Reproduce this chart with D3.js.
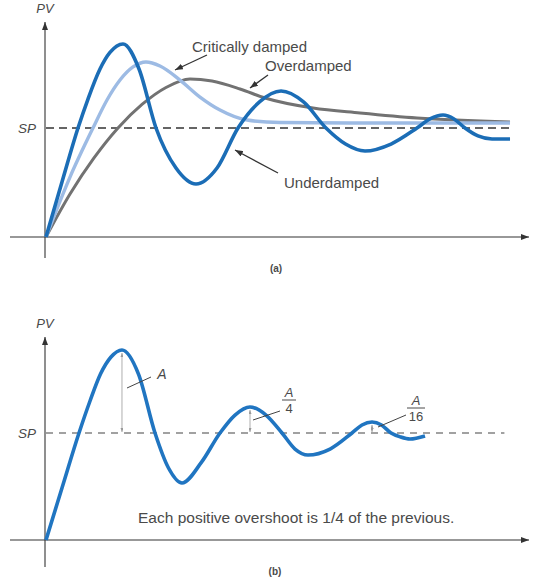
<!DOCTYPE html>
<html><head><meta charset="utf-8">
<script src="https://cdn.jsdelivr.net/npm/d3@7"></script>
<style>
body{margin:0;background:#fff}
svg{display:block}
text{font-family:"Liberation Sans",Arial,Helvetica,sans-serif;fill:#4a4a4a}
</style>
</head><body>
<svg id="c" width="539" height="578"></svg>
<script>
// ---------- data (time in % of window, PV relative to setpoint = 1) ----------
const underT   = [0, 3.33, 6.67, 8.75, 11.25, 13.33, 16.04, 19.38, 22.92, 27.08, 31.25, 35.63, 40.0, 44.48,
                  48.96, 53.65, 58.33, 62.4, 66.46, 71.88, 77.29, 80.0, 82.71, 85.0, 87.29, 90.0, 92.92, 96.67];
const underPV  = [0, 0.505, 1.0, 1.266, 1.541, 1.693, 1.771, 1.541, 1.0, 0.633, 0.486, 0.633, 1.0, 1.239,
                  1.339, 1.239, 1.0, 0.853, 0.789, 0.853, 1.0, 1.083, 1.119, 1.083, 1.0, 0.927, 0.899, 0.899];
const critT    = [0, 5.0, 9.79, 12.71, 15.42, 18.13, 20.83, 23.75, 27.92, 32.08, 36.25, 41.88, 48.75, 63.33, 96.67];
const critPV   = [0, 0.55, 1.0, 1.257, 1.44, 1.56, 1.606, 1.569, 1.44, 1.284, 1.165, 1.073, 1.05, 1.046, 1.046];
const overT    = [0, 5, 10, 15, 20, 25, 30, 34.58, 40.42, 45.63, 55.63, 65.42, 77.29, 96.67];
const overPV   = [0, 0.394, 0.725, 1.0, 1.216, 1.372, 1.45, 1.431, 1.358, 1.275, 1.183, 1.138, 1.092, 1.055];
const quarterT = [0, 3.33, 6.875, 9.17, 11.35, 13.54, 15.83, 19.27, 22.71, 25.52, 28.33, 32.29, 36.25, 39.38,
                  42.5, 45.83, 49.17, 51.88, 54.58, 59.17, 63.75, 65.83, 67.92, 69.9, 71.88, 73.85, 75.83, 78.96];
const quarterPV= [0, 0.486, 1.0, 1.299, 1.551, 1.71, 1.776, 1.551, 1.0, 0.673, 0.533, 0.72, 1.0, 1.168,
                  1.243, 1.168, 1.0, 0.85, 0.794, 0.85, 1.0, 1.075, 1.103, 1.075, 1.0, 0.963, 0.944, 0.972];
const overshootT  = [15.83, 42.5, 67.92];
const overshootPV = [1.776, 1.243, 1.103];
const overshootLabels = [["A"], ["A", "4"], ["A", "16"]];
const setpoint = 1;
const curveLabels = ["Critically damped", "Overdamped", "Underdamped"];
const caption = "Each positive overshoot is 1/4 of the previous.";

// ---------- scales ----------
const x  = d3.scaleLinear().domain([0, 100]).range([46, 526]);
const yA = d3.scaleLinear().domain([0, 1]).range([237, 128]);
const yB = d3.scaleLinear().domain([0, 1]).range([540, 433]);

const svg = d3.select("#c");
const defs = svg.append("defs");
function marker(id, color, w, h, orientAuto) {
  defs.append("marker").attr("id", id)
    .attr("viewBox", `0 0 ${w} ${h}`).attr("refX", w).attr("refY", h/2)
    .attr("markerWidth", w).attr("markerHeight", h)
    .attr("markerUnits", "userSpaceOnUse").attr("orient", orientAuto || "auto")
    .append("path").attr("d", `M0,0L${w},${h/2}L0,${h}Z`).attr("fill", color);
}
marker("axArrow", "#333", 8, 6);
marker("lblArrow", "#333", 8, 6);
marker("dimArrow", "#999", 4, 3, "auto-start-reverse");

const zip = (a, b) => a.map((v, i) => [v, b[i]]);
const smooth = d3.curveMonotoneX;

function axes(y, yTopPx, yBotPx) {
  const g = svg.append("g");
  g.append("line").attr("x1", 10).attr("x2", 529)
    .attr("y1", y(0)).attr("y2", y(0))
    .attr("stroke", "#333").attr("stroke-width", 1.1).attr("marker-end", "url(#axArrow)");
  g.append("line").attr("x1", x(0) - 1).attr("x2", x(0) - 1)
    .attr("y1", yBotPx).attr("y2", yTopPx)
    .attr("stroke", "#333").attr("stroke-width", 1.1).attr("marker-end", "url(#axArrow)");
  g.append("text").attr("x", x(0) - 1).attr("y", yTopPx - 9).attr("text-anchor", "middle")
    .attr("font-size", 13).attr("font-style", "italic").text("PV");
  g.append("text").attr("x", 36).attr("y", y(setpoint) + 5).attr("text-anchor", "end")
    .attr("font-size", 13.5).attr("font-style", "italic").text("SP");
}

// ================= panel (a) =================
axes(yA, 22, 258);
svg.append("line").attr("x1", x(0)).attr("x2", x(96.5))
  .attr("y1", yA(setpoint)).attr("y2", yA(setpoint))
  .attr("stroke", "#333").attr("stroke-width", 1.4).attr("stroke-dasharray", "8,5");

const lineA = d3.line().x(d => x(d[0])).y(d => yA(d[1])).curve(smooth);
svg.append("path").attr("d", lineA(zip(overT, overPV)))
  .attr("fill", "none").attr("stroke", "#727272").attr("stroke-width", 3);
svg.append("path").attr("d", lineA(zip(critT, critPV)))
  .attr("fill", "none").attr("stroke", "#9dbbe4").attr("stroke-width", 3.4);
svg.append("path").attr("d", lineA(zip(underT, underPV)))
  .attr("fill", "none").attr("stroke", "#1b6db6").attr("stroke-width", 3.6);

// labels with arrows
const lblAnchors = [[192, 52], [265, 71], [284, 188]];
const lblArrows = [[[207, 55], [175, 70]], [[268, 75], [250, 88]], [[278, 173], [235, 150]]];
curveLabels.forEach((t, i) => {
  svg.append("text").attr("x", lblAnchors[i][0]).attr("y", lblAnchors[i][1])
    .attr("font-size", 15).text(t);
  svg.append("line")
    .attr("x1", lblArrows[i][0][0]).attr("y1", lblArrows[i][0][1])
    .attr("x2", lblArrows[i][1][0]).attr("y2", lblArrows[i][1][1])
    .attr("stroke", "#333").attr("stroke-width", 1.3).attr("marker-end", "url(#lblArrow)");
});
svg.append("text").attr("x", 276).attr("y", 272).attr("text-anchor", "middle")
  .attr("font-size", 10).attr("font-weight", "bold").attr("fill", "#333").text("(a)");

// ================= panel (b) =================
axes(yB, 337, 567);
svg.append("line").attr("x1", x(0)).attr("x2", x(95.5))
  .attr("y1", yB(setpoint)).attr("y2", yB(setpoint))
  .attr("stroke", "#444").attr("stroke-width", 1.1).attr("stroke-dasharray", "7,6");

const lineB = d3.line().x(d => x(d[0])).y(d => yB(d[1])).curve(smooth);

// dimension arrows
overshootT.forEach((t, i) => {
  svg.append("line").attr("x1", x(t)).attr("x2", x(t))
    .attr("y1", yB(setpoint) - 1).attr("y2", yB(overshootPV[i]) + 3)
    .attr("stroke", "#999").attr("stroke-width", 0.8)
    .attr("marker-start", "url(#dimArrow)").attr("marker-end", "url(#dimArrow)");
});

svg.append("path").attr("d", lineB(zip(quarterT, quarterPV)))
  .attr("fill", "none").attr("stroke", "#2075c1").attr("stroke-width", 3.6);

// leader lines and labels
const leaders = [[[127, 388], [151, 377]], [[253, 420], [280, 411]], [[378, 427], [406, 415]]];
const labelPos = [[162, 374], [289, 400], [416, 408]];
overshootLabels.forEach((lab, i) => {
  svg.append("line")
    .attr("x1", leaders[i][0][0]).attr("y1", leaders[i][0][1])
    .attr("x2", leaders[i][1][0]).attr("y2", leaders[i][1][1])
    .attr("stroke", "#444").attr("stroke-width", 1);
  const [cx, cy] = labelPos[i];
  if (lab.length === 1) {
    svg.append("text").attr("x", cx).attr("y", cy + 5).attr("text-anchor", "middle")
      .attr("font-size", 14).attr("font-style", "italic").text(lab[0]);
  } else {
    const half = lab[1].length > 1 ? 9 : 7;
    svg.append("text").attr("x", cx).attr("y", cy - 3).attr("text-anchor", "middle")
      .attr("font-size", 13).attr("font-style", "italic").text(lab[0]);
    svg.append("line").attr("x1", cx - half).attr("x2", cx + half)
      .attr("y1", cy).attr("y2", cy).attr("stroke", "#4a4a4a").attr("stroke-width", 1);
    svg.append("text").attr("x", cx).attr("y", cy + 13).attr("text-anchor", "middle")
      .attr("font-size", 13).text(lab[1]);
  }
});

svg.append("text").attr("x", 138).attr("y", 523)
  .attr("font-size", 15.5).text(caption);
svg.append("text").attr("x", 275).attr("y", 575).attr("text-anchor", "middle")
  .attr("font-size", 10).attr("font-weight", "bold").attr("fill", "#333").text("(b)");
</script>
</body></html>
